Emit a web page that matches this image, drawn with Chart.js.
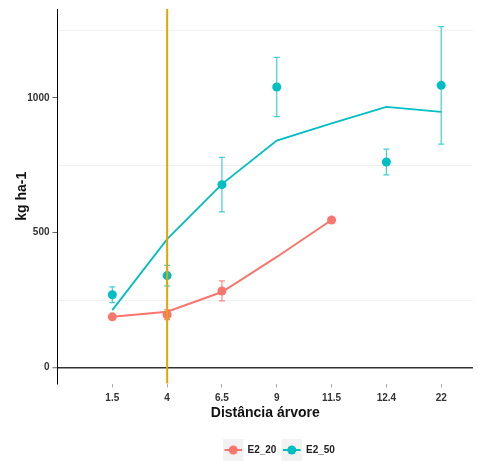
<!DOCTYPE html>
<html><head><meta charset="utf-8">
<script src="https://cdn.jsdelivr.net/npm/chart.js@4"></script>
<style>html,body{margin:0;padding:0;background:#fff}canvas{display:block}</style>
</head><body>
<canvas id="c" width="478" height="461"></canvas>
<script>
// ---- data ----
const categories = ["1.5","4","6.5","9","11.5","12.4","22"];
const seriesNames = ["E2_20","E2_50"];
const e20Means = [188,196,284,null,547,null,null];
const e20Err   = [6,18,37,null,null,null,null];
const e20Fit   = [188,207,280,410,547,null,null];
const e50Means = [270,341,678,1040,null,762,1046];
const e50Err   = [29,38,101,110,null,48,218];
const e50Fit   = [213,476,680,841,905,966,948];
const yTicks   = [0,250,500,750,1000,1250];
const yLabelTicks = [0,500,1000];
const vlineCategory = "4";

const RED = '#F8766D', CYAN = '#00BFC4', ORANGE = '#E9A400';
const FONT = '"Liberation Sans", Arial, sans-serif';

function pts(arr){ return arr.map((v,i)=>v==null?null:{x:i,y:v}).filter(p=>p); }

const errSeries = [
  {means:e20Means, err:e20Err, color:'rgba(248,118,109,0.85)'},
  {means:e50Means, err:e50Err, color:'rgba(0,191,196,0.75)'}
];

const errorBars = {
  id:'errorBars',
  beforeDatasetsDraw(chart){
    const {ctx, scales:{x,y}} = chart;
    ctx.save();
    ctx.lineWidth = 1.2;
    errSeries.forEach(s=>{
      ctx.strokeStyle = s.color;
      s.means.forEach((m,i)=>{
        const e = s.err[i];
        if(m==null||e==null) return;
        const px = x.getPixelForValue(i);
        const y1 = y.getPixelForValue(m+e), y2 = y.getPixelForValue(m-e);
        ctx.beginPath();
        ctx.moveTo(px,y1); ctx.lineTo(px,y2);
        ctx.moveTo(px-3,y1); ctx.lineTo(px+3,y1);
        ctx.moveTo(px-3,y2); ctx.lineTo(px+3,y2);
        ctx.stroke();
      });
    });
    ctx.restore();
  }
};

const vline = {
  id:'vline',
  afterDatasetsDraw(chart){
    const {ctx, chartArea, scales:{x}} = chart;
    const px = x.getPixelForValue(categories.indexOf(vlineCategory));
    ctx.save();
    ctx.strokeStyle = ORANGE; ctx.lineWidth = 2;
    ctx.beginPath(); ctx.moveTo(px, chartArea.top); ctx.lineTo(px, chartArea.bottom); ctx.stroke();
    ctx.restore();
  }
};

const legendKeys = {
  id:'legendKeys',
  afterDraw(chart){
    const ctx = chart.ctx;
    const items = [{name:seriesNames[0], color:RED, x:223},{name:seriesNames[1], color:CYAN, x:281.5}];
    ctx.save();
    items.forEach(it=>{
      ctx.fillStyle = '#f2f2f2';
      ctx.fillRect(it.x, 439, 20.5, 22);
      const cy = 450;
      ctx.strokeStyle = it.color; ctx.lineWidth = 2;
      ctx.beginPath(); ctx.moveTo(it.x+1.5, cy); ctx.lineTo(it.x+19, cy); ctx.stroke();
      ctx.fillStyle = it.color;
      ctx.beginPath(); ctx.arc(it.x+10.25, cy, 4.5, 0, Math.PI*2); ctx.fill();
      ctx.fillStyle = '#222';
      ctx.font = 'bold 10px ' + FONT;
      ctx.textBaseline = 'middle'; ctx.textAlign = 'left';
      ctx.fillText(it.name, it.x+24.5, cy+0.5);
    });
    ctx.restore();
  }
};

new Chart(document.getElementById('c'), {
  type:'scatter',
  data:{
    datasets:[
      {label:seriesNames[0]+' pts', data:pts(e20Means), showLine:false, pointRadius:4.5, pointHoverRadius:4.5, backgroundColor:RED, borderColor:RED, borderWidth:0},
      {label:seriesNames[1]+' pts', data:pts(e50Means), showLine:false, pointRadius:4.5, pointHoverRadius:4.5, backgroundColor:CYAN, borderColor:CYAN, borderWidth:0},
      {label:seriesNames[0]+' fit', data:pts(e20Fit), showLine:true, pointRadius:0, borderColor:RED, borderWidth:2, tension:0},
      {label:seriesNames[1]+' fit', data:pts(e50Fit), showLine:true, pointRadius:0, borderColor:CYAN, borderWidth:1.8, tension:0}
    ]
  },
  options:{
    responsive:false,
    animation:false,
    devicePixelRatio:1,
    layout:{padding:{top:8,right:5,left:0,bottom:39.9}},
    plugins:{legend:{display:false}, tooltip:{enabled:false}},
    scales:{
      x:{
        type:'linear', min:-1, max:6.58,
        afterBuildTicks(s){ s.ticks = categories.map((c,i)=>({value:i})); },
        ticks:{callback:(v)=>categories[v], font:{family:FONT, size:10, weight:'bold'}, color:'#333', padding:4.5, autoSkip:false, maxRotation:0},
        grid:{drawOnChartArea:false, tickLength:4, tickColor:'#aaa'},
        border:{display:false},
        title:{display:true, text:'Distância árvore', font:{family:FONT, size:14, weight:'bold'}, color:'#111', padding:{top:-4.2,bottom:0}}
      },
      y:{
        type:'linear', min:-59, max:1329,
        afterBuildTicks(s){ s.ticks = yTicks.map(v=>({value:v})); },
        afterFit(s){ s.width = 57.5; },
        ticks:{callback:(v)=>yLabelTicks.includes(v)?String(v):'', font:{family:FONT, size:10, weight:'bold'}, color:'#333', padding:3},
        grid:{
          color:(c)=>{const v=c.tick&&c.tick.value; if(v===0) return '#333'; return yLabelTicks.includes(v)?'rgba(0,0,0,0)':'#f1f1f1';},
          lineWidth:(c)=>(c.tick&&c.tick.value===0)?1.5:1,
          tickColor:(c)=>{const v=c.tick&&c.tick.value; return yLabelTicks.includes(v)?'#666':'rgba(0,0,0,0)';},
          tickWidth:1,
          tickLength:5
        },
        border:{display:true, color:'#000', width:1},
        title:{display:true, text:'kg ha-1', font:{family:FONT, size:14, weight:'bold'}, color:'#111', padding:{top:14,bottom:0}}
      }
    }
  },
  plugins:[errorBars, vline, legendKeys]
});
</script>
</body></html>
